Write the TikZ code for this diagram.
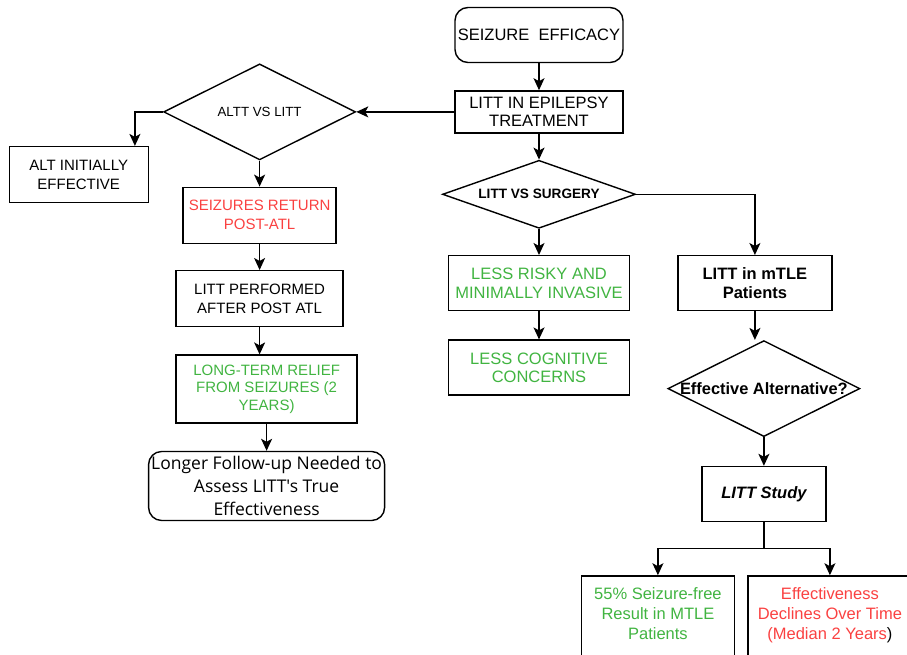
\documentclass[tikz,border=0pt]{standalone}
\usepackage{fontspec}
\setmainfont{Liberation Sans}
\newfontfamily\segoefont{Open Sans}
\usetikzlibrary{arrows.meta, positioning, shapes.geometric}

\definecolor{goodgreen}{RGB}{65,180,65}
\definecolor{badred}{RGB}{250,65,65}

\begin{document}
\begin{tikzpicture}[
    x=1pt, y=1pt,
    every node/.style={
        draw,
        align=center,
        line width=1.4pt,
        inner sep=2pt
    },
    box/.style={rectangle, font=\fontsize{16.5}{18.5}\selectfont},
    leftbox/.style={rectangle, font=\fontsize{15}{19}\selectfont},
    decision/.style={diamond, inner sep=0pt},
    arrow/.style={-{Stealth[length=12pt, width=11pt, inset=3pt]}, line width=1.4pt},
    node distance=28pt
]
\useasboundingbox (0,0) rectangle (907,-655);
\clip (0,0) rectangle (907,-655);

% ------------------------
% Top
% ------------------------
\node[box, rounded corners=13pt, minimum width=168pt, minimum height=55pt]
    (efficacy) at (539,-35) {SEIZURE\ \ EFFICACY};

\node[box, minimum width=168pt, minimum height=42pt, below=27pt of efficacy]
    (epilepsy) {LITT IN EPILEPSY\\TREATMENT};

% ------------------------
% ALTT branch (left)
% ------------------------
\node[decision, aspect=2, minimum width=192pt, minimum height=96pt,
    font=\fontsize{13.3}{16}\selectfont, left=98pt of epilepsy]
    (alttvs) {ALTT VS LITT};

\node[leftbox, minimum width=139pt, minimum height=56pt,
    below left=34pt and 14pt of alttvs.west]
    (altinit) {ALT INITIALLY\\EFFECTIVE};

\node[leftbox, text=badred, minimum width=153pt, minimum height=56pt,
    below=26pt of alttvs]
    (seizret) {SEIZURES RETURN\\POST-ATL};

\node[leftbox, minimum width=167pt, minimum height=56pt, below=26pt of seizret]
    (performed) {LITT PERFORMED\\AFTER POST ATL};

\node[leftbox, text=goodgreen, font=\fontsize{15}{17.5}\selectfont,
    minimum width=181pt, minimum height=68pt, below=27pt of performed, xshift=7pt]
    (relief) {LONG-TERM RELIEF\\FROM SEIZURES (2\\YEARS)};

\node[rounded corners=13pt, font=\segoefont\fontsize{17.5}{23}\selectfont,
    inner sep=0pt, minimum width=236pt, minimum height=69pt, below=27pt of relief]
    (followup) {Longer Follow-up Needed to\\Assess LITT's True\\Effectiveness};

% ------------------------
% Surgery branch (middle)
% ------------------------
\node[decision, aspect=2.84, minimum width=193pt, minimum height=68pt,
    font=\bfseries\fontsize{13.6}{16}\selectfont, below=26pt of epilepsy]
    (littsurg) {LITT VS SURGERY};

\node[box, text=goodgreen, minimum width=181pt, minimum height=55pt,
    below=26pt of littsurg]
    (risky) {LESS RISKY AND\\MINIMALLY INVASIVE};

\node[box, text=goodgreen, minimum width=181pt, minimum height=55pt,
    below=28pt of risky]
    (cognitive) {LESS COGNITIVE\\CONCERNS};

% ------------------------
% mTLE branch (right)
% ------------------------
\node[box, font=\bfseries\fontsize{16.5}{18.5}\selectfont,
    minimum width=154pt, minimum height=55pt, right=47pt of risky]
    (mtle) {LITT in mTLE\\Patients};

\node[decision, aspect=2, inner sep=-4pt, minimum width=192pt, minimum height=96pt,
    font=\bfseries\fontsize{16.4}{18}\selectfont, below=28.5pt of mtle, xshift=9pt]
    (alternative) {Effective Alternative?};

\node[box, font=\bfseries\itshape\fontsize{16.5}{18.5}\selectfont,
    minimum width=124pt, minimum height=55pt, below=28.5pt of alternative]
    (study) {LITT Study};

\node[box, text=goodgreen, font=\fontsize{16.5}{20}\selectfont,
    minimum width=153pt, minimum height=96pt, below=53pt of study, xshift=-106pt]
    (seizfree) {55\% Seizure-free\\Result in MTLE\\Patients\\ \mbox{}};

\node[box, text=badred, font=\fontsize{16.5}{20}\selectfont,
    minimum width=164pt, minimum height=96pt, below=53pt of study, xshift=66pt]
    (declines) {Effectiveness\\Declines Over Time\\(Median 2 Years\textcolor{black}{)}\\ \mbox{}};

\coordinate (split) at ([yshift=-26pt]study.south);

% ------------------------
% Arrows
% ------------------------
\draw[arrow] (efficacy) -- (epilepsy);
\draw[arrow] (epilepsy.west) -- (alttvs.east);
\draw[arrow] (alttvs.west) -| ([xshift=-14pt]altinit.north east);
\draw[arrow] (alttvs) -- (seizret);
\draw[arrow] (seizret) -- (performed);
\draw[arrow] (performed.south) -- (performed.south |- relief.north);
\draw[arrow] (relief) -- (followup);

\draw[arrow] (epilepsy) -- (littsurg);
\draw[arrow] (littsurg) -- (risky);
\draw[arrow] (risky) -- (cognitive);
\draw[arrow] (littsurg.east) -| (mtle.north);
\draw[arrow] (mtle.south) -- (mtle.south |- alternative.north);
\draw[arrow] (alternative) -- (study);
\draw[line width=1.4pt] (study) -- (split);
\draw[arrow] (split) -| (seizfree);
\draw[arrow] (split) -| (declines);

\end{tikzpicture}
\end{document}
